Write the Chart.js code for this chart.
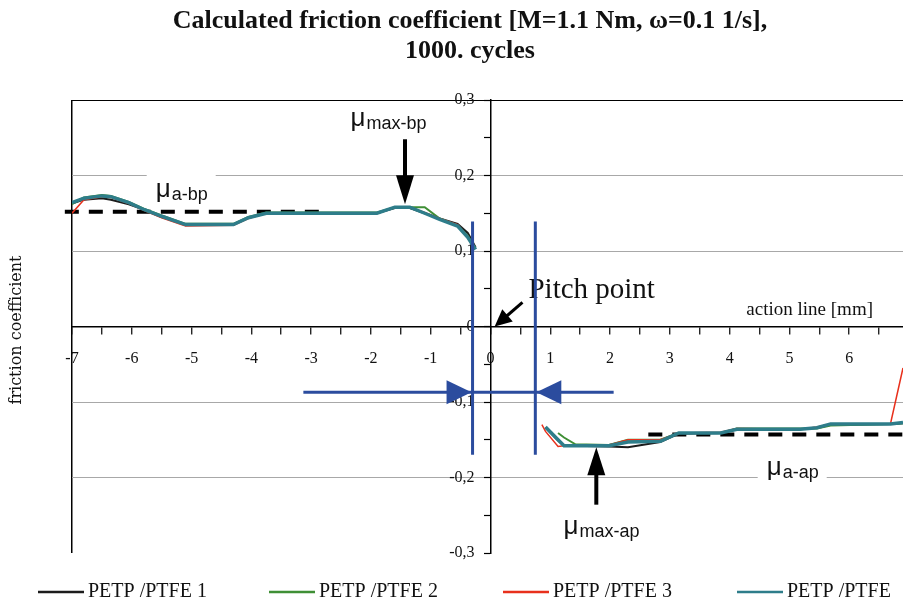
<!DOCTYPE html>
<html>
<head>
<meta charset="utf-8">
<script src="https://cdn.jsdelivr.net/npm/chart.js@4.4.0/dist/chart.umd.min.js"></script>
<style>
  html, body { margin: 0; padding: 0; background: #fff; }
  #wrap { width: 903px; height: 608px; }
</style>
</head>
<body>
<div id="wrap"><canvas id="grafico"></canvas></div>
<script>
// action line positions before the pitch point [mm]
const xBp = [-7.0, -6.8, -6.5, -6.35, -6.05, -5.8, -5.5, -5.1, -4.3, -4.05, -3.75, -1.9, -1.6, -1.35, -1.1, -0.85, -0.55, -0.38, -0.25];
const bp1 = [0.163, 0.168, 0.170, 0.168, 0.162, 0.155, 0.145, 0.135, 0.135, 0.144, 0.150, 0.150, 0.157, 0.157, 0.150, 0.143, 0.136, 0.124, 0.105];
const bp2 = [0.162, 0.171, 0.174, 0.173, 0.165, 0.156, 0.147, 0.136, 0.136, 0.145, 0.151, 0.151, 0.158, 0.158, 0.158, 0.143, 0.134, 0.120, 0.103];
const bp3 = [0.150, 0.168, 0.172, 0.171, 0.163, 0.154, 0.144, 0.133, 0.134, 0.143, 0.150, 0.150, 0.158, 0.158, 0.151, 0.143, 0.135, 0.119, 0.103];
const bpAvg = [0.164, 0.170, 0.173, 0.172, 0.164, 0.155, 0.146, 0.135, 0.135, 0.144, 0.150, 0.150, 0.158, 0.158, 0.150, 0.142, 0.133, 0.118, 0.102];

// action line positions after the pitch point [mm]
const xAp = [0.86, 0.92, 1.13, 1.23, 1.42, 1.98, 2.3, 2.84, 3.15, 3.85, 4.12, 5.18, 5.46, 5.69, 6.69, 6.9];
const ap1 = [null, -0.134, -0.151, -0.158, -0.158, -0.159, -0.160, -0.153, -0.142, -0.141, -0.136, -0.136, -0.134, -0.130, -0.129, -0.128];
const ap2 = [null, null, -0.141, -0.147, -0.156, -0.157, -0.150, -0.150, -0.141, -0.141, -0.135, -0.135, -0.135, -0.131, -0.129, -0.128];
const ap3 = [-0.130, -0.139, -0.159, -0.158, -0.157, -0.157, -0.150, -0.150, -0.141, -0.140, -0.135, -0.136, -0.133, -0.129, -0.129, -0.055];
const apAvg = [null, -0.133, -0.150, -0.158, -0.158, -0.158, -0.153, -0.152, -0.141, -0.141, -0.136, -0.136, -0.134, -0.129, -0.129, -0.127];

const seriesNames = ["PETP /PTFE 1", "PETP /PTFE 2", "PETP /PTFE 3", "PETP /PTFE"];
const seriesColors = ["#1c1c1c", "#3f8f35", "#e8301c", "#2e7d8a"];
const seriesWidths = [2, 2, 1.5, 3.5];

// average friction values (dashed) and pitch zone (blue)
const muAvgBp = 0.152, muAvgBpFrom = -7.12, muAvgBpTo = -2.76;
const muAvgAp = -0.143, muAvgApFrom = 2.64, muAvgApTo = 6.95;
const pitchLeft = -0.30, pitchRight = 0.75, pitchTop = 0.139, pitchBottom = -0.170;
const pitchArrowY = -0.087, pitchArrowFrom = -3.13, pitchArrowTo = 2.06;

const yTicks = ["-0,3", "-0,2", "-0,1", "0", "0,1", "0,2", "0,3"];

function toPoints(xs, ys1, ys2) {
  const pts = xs.map((x, i) => ({ x: x, y: ys1[i] }));
  pts.push({ x: 0.3, y: null }); // gap across the pitch point
  return pts.concat(xAp.map((x, i) => ({ x: x, y: ys2[i] })));
}

const bpSets = [bp1, bp2, bp3, bpAvg];
const apSets = [ap1, ap2, ap3, apAvg];
const orders = [4, 3, 2, 1];

const datasets = seriesNames.map((name, i) => ({
  label: name,
  data: toPoints(xBp, bpSets[i], apSets[i]),
  borderColor: seriesColors[i],
  backgroundColor: seriesColors[i],
  borderWidth: seriesWidths[i],
  pointRadius: 0,
  order: orders[i],
}));

const BLUE = "#2b4c9e";
datasets.push(
  { label: "avgBp", data: [{ x: muAvgBpFrom, y: muAvgBp }, { x: muAvgBpTo, y: muAvgBp }],
    borderColor: "#000", borderWidth: 4, borderDash: [14, 10], pointRadius: 0, order: 6, clip: false },
  { label: "avgAp", data: [{ x: muAvgApFrom, y: muAvgAp }, { x: muAvgApTo, y: muAvgAp }],
    borderColor: "#000", borderWidth: 4, borderDash: [14, 10], pointRadius: 0, order: 6, clip: false },
  { label: "pitchL", data: [{ x: pitchLeft, y: pitchTop }, { x: pitchLeft, y: pitchBottom }],
    borderColor: BLUE, borderWidth: 3, pointRadius: 0, order: 0 },
  { label: "pitchR", data: [{ x: pitchRight, y: pitchTop }, { x: pitchRight, y: pitchBottom }],
    borderColor: BLUE, borderWidth: 3, pointRadius: 0, order: 0 },
  { label: "pitchH", data: [{ x: pitchArrowFrom, y: pitchArrowY }, { x: pitchArrowTo, y: pitchArrowY }],
    borderColor: BLUE, borderWidth: 3, pointRadius: 0, order: 0 }
);

function isStep(v, step) {
  const k = v / step;
  return Math.abs(k - Math.round(k)) < 1e-6;
}

// helpers for the drawn notes
function arrowHead(ctx, tx, ty, dx, dy, len, half, color) {
  const n = Math.hypot(dx, dy);
  const ux = dx / n, uy = dy / n;
  const bx = tx - ux * len, by = ty - uy * len;
  ctx.fillStyle = color;
  ctx.beginPath();
  ctx.moveTo(tx, ty);
  ctx.lineTo(bx - uy * half, by + ux * half);
  ctx.lineTo(bx + uy * half, by - ux * half);
  ctx.closePath();
  ctx.fill();
}

function drawMu(ctx, x, y, sub, box) {
  ctx.font = '26px "Liberation Sans", Arial, sans-serif';
  const w1 = ctx.measureText("μ").width;
  ctx.font = '18px "Liberation Sans", Arial, sans-serif';
  const w2 = ctx.measureText(sub).width;
  if (box) {
    ctx.fillStyle = "#fff";
    ctx.fillRect(x - 9, y - 29, w1 + w2 + 18, 36);
  }
  ctx.fillStyle = "#111";
  ctx.textAlign = "left";
  ctx.textBaseline = "alphabetic";
  ctx.font = '26px "Liberation Sans", Arial, sans-serif';
  ctx.fillText("μ", x, y);
  ctx.font = '18px "Liberation Sans", Arial, sans-serif';
  ctx.fillText(sub, x + w1 + 1, y + 3);
}

const notes = {
  id: "notes",
  beforeDatasetsDraw(chart) {
    const ctx = chart.ctx, xs = chart.scales.x, ys = chart.scales.y;
    ctx.save();
    drawMu(ctx, xs.getPixelForValue(-5.60), ys.getPixelForValue(0.172), "a-bp", true);
    drawMu(ctx, xs.getPixelForValue(4.62), ys.getPixelForValue(-0.197), "a-ap", true);
    drawMu(ctx, xs.getPixelForValue(-2.34), ys.getPixelForValue(0.265), "max-bp", false);
    drawMu(ctx, xs.getPixelForValue(1.22), ys.getPixelForValue(-0.275), "max-ap", false);

    ctx.fillStyle = "#111";
    ctx.textAlign = "left";
    ctx.textBaseline = "alphabetic";
    ctx.font = '29px "Liberation Serif", serif';
    ctx.fillText("Pitch point", xs.getPixelForValue(0.635), ys.getPixelForValue(0.0384));
    ctx.font = '19px "Liberation Serif", serif';
    ctx.fillText("action line [mm]", xs.getPixelForValue(4.28), ys.getPixelForValue(0.0146));
    ctx.restore();
  },
  afterDatasetsDraw(chart) {
    const ctx = chart.ctx, xs = chart.scales.x, ys = chart.scales.y;
    ctx.save();
    // blue arrowheads pointing at the pitch zone
    const ay = ys.getPixelForValue(pitchArrowY);
    arrowHead(ctx, xs.getPixelForValue(pitchLeft) - 1, ay, 1, 0, 25, 12, BLUE);
    arrowHead(ctx, xs.getPixelForValue(pitchRight) + 1, ay, -1, 0, 25, 12, BLUE);

    // black arrows
    ctx.strokeStyle = "#000";
    ctx.lineWidth = 4;
    let x = xs.getPixelForValue(-1.43);
    ctx.beginPath();
    ctx.moveTo(x, ys.getPixelForValue(0.248));
    ctx.lineTo(x, ys.getPixelForValue(0.195));
    ctx.stroke();
    arrowHead(ctx, x, ys.getPixelForValue(0.162), 0, 1, 29, 9, "#000");

    x = xs.getPixelForValue(1.77);
    ctx.beginPath();
    ctx.moveTo(x, ys.getPixelForValue(-0.236));
    ctx.lineTo(x, ys.getPixelForValue(-0.19));
    ctx.stroke();
    arrowHead(ctx, x, ys.getPixelForValue(-0.160), 0, -1, 28, 9, "#000");

    const px1 = xs.getPixelForValue(0.535), py1 = ys.getPixelForValue(0.032);
    const px2 = xs.getPixelForValue(0.07), py2 = ys.getPixelForValue(0.0);
    ctx.lineWidth = 3;
    ctx.beginPath();
    ctx.moveTo(px1, py1);
    ctx.lineTo(px2 + 8, py2 - 7);
    ctx.stroke();
    arrowHead(ctx, px2, py2, px2 - px1, py2 - py1, 17, 8, "#000");
    ctx.restore();
  },
  afterDraw(chart) {
    const ctx = chart.ctx;
    ctx.save();
    ctx.fillStyle = "#111";
    ctx.textAlign = "center";
    ctx.textBaseline = "middle";
    ctx.font = 'bold 26px "Liberation Serif", serif';
    ctx.fillText("Calculated friction coefficient [M=1.1 Nm, ω=0.1 1/s],", 470, 21);
    ctx.fillText("1000. cycles", 470, 51);

    ctx.save();
    ctx.translate(17, 330);
    ctx.rotate(-Math.PI / 2);
    ctx.font = '16px "DejaVu Serif", serif';
    ctx.fillText("friction coefficient", 0, 0);
    ctx.restore();

    // legend
    const legendX = [38, 269, 503, 737];
    ctx.textAlign = "left";
    ctx.font = '20px "Liberation Serif", serif';
    seriesNames.forEach((name, i) => {
      ctx.strokeStyle = seriesColors[i];
      ctx.lineWidth = 2.5;
      ctx.beginPath();
      ctx.moveTo(legendX[i], 592);
      ctx.lineTo(legendX[i] + 46, 592);
      ctx.stroke();
      ctx.fillStyle = "#111";
      ctx.fillText(name, legendX[i] + 50, 592);
    });
    ctx.restore();
  },
};

new Chart(document.getElementById("grafico"), {
  type: "line",
  data: { datasets: datasets },
  options: {
    responsive: true,
    maintainAspectRatio: false,
    animation: false,
    devicePixelRatio: 1,
    layout: { padding: { left: 72, right: 0, top: 100, bottom: 55 } },
    plugins: { legend: { display: false }, tooltip: { enabled: false }, title: { display: false } },
    scales: {
      x: {
        type: "linear",
        position: { y: 0 },
        min: -7,
        max: 6.9,
        border: { color: "#000", width: 1.5 },
        grid: {
          drawOnChartArea: true,
          color: (c) => (c.tick && c.tick.value === -7 ? "#000" : "rgba(0,0,0,0)"),
          lineWidth: 1.5,
          tickColor: "#000",
          tickWidth: 1.2,
          tickLength: 7,
        },
        ticks: {
          stepSize: 0.5,
          includeBounds: false,
          autoSkip: false,
          maxRotation: 0,
          padding: 16,
          color: "#111",
          font: { family: '"Liberation Serif", serif', size: 16 },
          callback: (v) => (isStep(v, 1) ? String(Math.round(v)) : ""),
        },
      },
      y: {
        type: "linear",
        position: { x: 0 },
        min: -0.3,
        max: 0.3,
        border: { color: "#000", width: 1.5 },
        grid: {
          color: (c) => {
            if (!c.tick) return "rgba(0,0,0,0)";
            const v = Math.round(c.tick.value * 100);
            if (v === 30) return "#000";
            if (v === 0 || v === -30 || v % 10 !== 0) return "rgba(0,0,0,0)";
            return "#a8a8a8";
          },
          lineWidth: 1,
          tickColor: "#000",
          tickWidth: 1.2,
          tickLength: 6,
        },
        ticks: {
          stepSize: 0.05,
          autoSkip: false,
          color: "#111",
          font: { family: '"Liberation Serif", serif', size: 16 },
          // em space keeps the label clear of the axis
          callback: (v) => (isStep(v, 0.1) ? yTicks[Math.round(v * 10) + 3] + "\u2003" : ""),
        },
      },
    },
  },
  plugins: [notes],
});
</script>
</body>
</html>
